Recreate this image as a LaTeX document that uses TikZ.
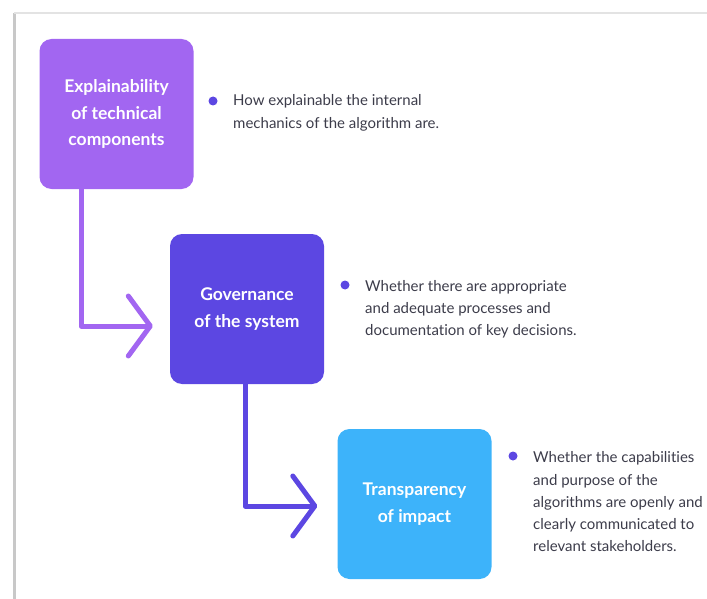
\documentclass[tikz,border=0pt]{standalone}
\usepackage{fontspec}
\setmainfont{Lato}[Ligatures=NoCommon]
\usepackage{tikz}
\usetikzlibrary{arrows.meta}
\usetikzlibrary{calc,positioning}
\definecolor{explpurple}{HTML}{A266F1}
\definecolor{govindigo}{HTML}{5C47E2}
\definecolor{transblue}{HTML}{3DB3FA}
\definecolor{desctext}{HTML}{3C3C4A}
\definecolor{framegray}{HTML}{C8C8C8}

\begin{document}
\begin{tikzpicture}[x=1pt,y=-1pt,
    stage/.style={rounded corners=12pt,minimum width=154pt,minimum height=150pt,inner sep=0pt,
      align=center,text=white,font=\fontsize{17.5}{26.5}\selectfont\bfseries},
    desc/.style={anchor=north west,align=left,inner sep=0pt,text=desctext,
      font=\fontsize{15}{22.3}\selectfont},
    dot/.style={circle,inner sep=0pt,minimum size=9pt,fill=govindigo},
    flow/.style={line width=5pt,line join=round,
      -{Straight Barb[length=22pt,width=60pt,round]}}]
			\useasboundingbox (0,0) rectangle (707,599);
			\clip (0,0) rectangle (707,599);
			\draw[framegray,line width=3pt] (14,599) -- (14,13);
			\draw[framegray!50,line width=1.5pt] (14,13) -- (707,13);

			\node[stage,fill=explpurple] (expl) at (116.5,114) {Explainability\\of technical\\components};
			\node[stage,fill=govindigo] (gov) at (247,309) {Governance\\of the system};
			\node[stage,fill=transblue] (trans) at (414.5,504) {Transparency\\of impact};

			\coordinate (govin) at ($(gov.west)+(-17,17)$);
			\coordinate (transin) at ($(trans.west)+(-20,2)$);
			\draw[flow,explpurple] ($(expl.south)+(-35.5,0)$) |- (govin);
			\draw[flow,govindigo] ($(gov.south)+(-2,0)$) |- (transin);

			\node[dot] (dot1) at (213,101) {};
			\node[dot] (dot2) at (345,285) {};
			\node[dot] (dot3) at (513,456) {};
			\node[desc] (desc1) at (233,94.5) {How explainable the internal\\mechanics of the algorithm are.};
			\node[desc] (desc2) at (365,280) {Whether there are appropriate\\and adequate processes and\\documentation of key decisions.};
			\node[desc] (desc3) at (533,451.5) {Whether the capabilities\\and purpose of the\\algorithms are openly and\\clearly communicated to\\relevant stakeholders.};
		\end{tikzpicture}
\end{document}
